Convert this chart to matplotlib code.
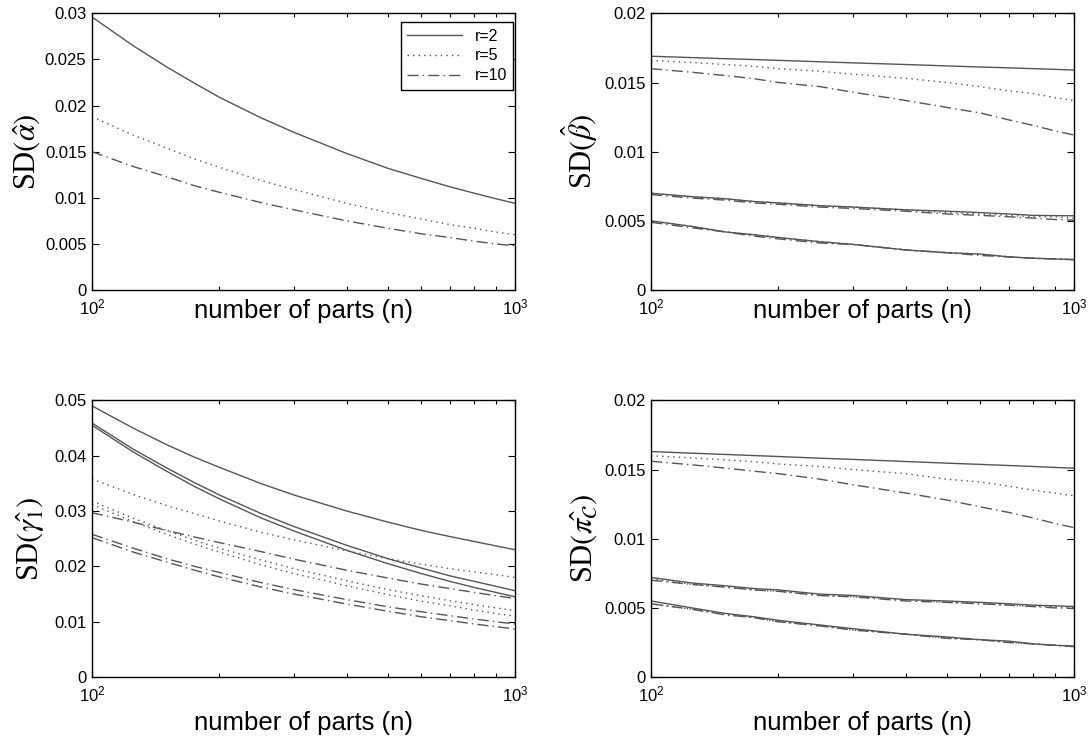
import matplotlib
matplotlib.use("Agg")
import matplotlib.pyplot as plt
from matplotlib.ticker import NullFormatter, FixedLocator

plt.rcParams['font.family'] = ['Liberation Sans', 'DejaVu Sans']
plt.rcParams['mathtext.fontset'] = 'stix'

# sample sizes (x axis)
n_parts = [100, 125, 150, 175, 200, 250, 300, 400, 500, 600, 700, 800, 900, 1000]

# SD(alpha)
alpha_r2 = [0.0296, 0.0265, 0.0242, 0.0224, 0.0209, 0.0187, 0.0171, 0.0148, 0.0132, 0.0121, 0.0112, 0.0105, 0.0099, 0.0094]
alpha_r5 = [0.0188, 0.0168, 0.0154, 0.0142, 0.0133, 0.0119, 0.0109, 0.0094, 0.0084, 0.0077, 0.0071, 0.0067, 0.0063, 0.0060]
alpha_r10 = [0.0150, 0.0134, 0.0123, 0.0113, 0.0106, 0.0095, 0.0087, 0.0075, 0.0067, 0.0061, 0.0057, 0.0053, 0.0050, 0.0048]

# SD(beta): three groups of curves, one per r
beta_r2 = [
    [0.0169, 0.0168, 0.01672, 0.01666, 0.0166, 0.0165, 0.01642, 0.0163, 0.0162, 0.01612, 0.01606, 0.0160, 0.01595, 0.0159],
    [0.0070, 0.00675, 0.0066, 0.0064, 0.0063, 0.0061, 0.0060, 0.0058, 0.0057, 0.0056, 0.0055, 0.0054, 0.00538, 0.00537],
    [0.0050, 0.0046, 0.0042, 0.0040, 0.0038, 0.0035, 0.0033, 0.0029, 0.0027, 0.0026, 0.0024, 0.0023, 0.00225, 0.0022],
]
beta_r5 = [
    [0.0166, 0.01644, 0.0163, 0.01617, 0.0160, 0.01582, 0.0156, 0.0153, 0.0150, 0.0147, 0.0144, 0.0142, 0.0139, 0.0137],
    [0.0070, 0.00675, 0.0066, 0.0064, 0.0063, 0.0061, 0.0060, 0.0058, 0.0056, 0.0055, 0.0054, 0.0053, 0.0053, 0.0052],
    [0.0050, 0.0046, 0.0042, 0.0040, 0.0038, 0.0035, 0.0033, 0.0029, 0.0027, 0.0026, 0.0024, 0.0023, 0.00225, 0.0022],
]
beta_r10 = [
    [0.0160, 0.01574, 0.0155, 0.01528, 0.0150, 0.01471, 0.0143, 0.0137, 0.0132, 0.0128, 0.0123, 0.0119, 0.0115, 0.0112],
    [0.0069, 0.00665, 0.0065, 0.0063, 0.0062, 0.0060, 0.0059, 0.0057, 0.0055, 0.0054, 0.0053, 0.0052, 0.0051, 0.00505],
    [0.0049, 0.0045, 0.0042, 0.0039, 0.0037, 0.0034, 0.0033, 0.0029, 0.0027, 0.0025, 0.0024, 0.0023, 0.00225, 0.0022],
]

# SD(gamma_1)
gamma_r2 = [
    [0.0490, 0.0450, 0.0420, 0.0397, 0.0379, 0.0350, 0.0329, 0.0300, 0.0280, 0.0265, 0.0254, 0.0245, 0.0237, 0.0230],
    [0.0459, 0.0412, 0.0378, 0.0351, 0.0329, 0.0296, 0.0272, 0.0238, 0.0214, 0.0197, 0.0183, 0.0173, 0.0164, 0.0156],
    [0.0455, 0.0407, 0.0372, 0.0344, 0.0322, 0.0288, 0.0264, 0.0229, 0.0205, 0.0187, 0.0173, 0.0162, 0.0153, 0.0145],
]
gamma_r5 = [
    [0.0358, 0.0330, 0.0310, 0.0295, 0.0282, 0.0262, 0.0248, 0.0228, 0.0214, 0.0204, 0.0196, 0.0190, 0.0185, 0.0180],
    [0.0318, 0.0287, 0.0265, 0.0247, 0.0233, 0.0212, 0.0196, 0.0174, 0.0158, 0.0147, 0.0138, 0.0131, 0.0125, 0.0120],
    [0.0312, 0.0281, 0.0258, 0.0240, 0.0226, 0.0203, 0.0187, 0.0165, 0.0149, 0.0137, 0.0129, 0.0121, 0.0115, 0.0110],
]
gamma_r10 = [
    [0.0297, 0.0280, 0.0265, 0.0253, 0.0243, 0.0227, 0.0213, 0.0193, 0.0179, 0.0168, 0.0160, 0.0153, 0.0147, 0.0142],
    [0.0258, 0.0233, 0.0214, 0.0200, 0.0189, 0.0171, 0.0158, 0.0140, 0.0127, 0.0118, 0.0111, 0.0105, 0.0100, 0.0096],
    [0.0252, 0.0226, 0.0208, 0.0193, 0.0181, 0.0163, 0.0150, 0.0132, 0.0119, 0.0109, 0.0102, 0.0096, 0.0091, 0.0087],
]

# SD(pi_C)
pi_r2 = [
    [0.0163, 0.01618, 0.01609, 0.01601, 0.01594, 0.01582, 0.01573, 0.01558, 0.01546, 0.01537, 0.01529, 0.01522, 0.01515, 0.0151],
    [0.0072, 0.0068, 0.0066, 0.0064, 0.0063, 0.0060, 0.0059, 0.0056, 0.0055, 0.0054, 0.0053, 0.0052, 0.00515, 0.0051],
    [0.0055, 0.0050, 0.0046, 0.00436, 0.0041, 0.00377, 0.0035, 0.0031, 0.0029, 0.0027, 0.0026, 0.0024, 0.0023, 0.00224],
]
pi_r5 = [
    [0.0160, 0.01584, 0.0157, 0.01557, 0.0154, 0.01522, 0.0150, 0.0147, 0.0143, 0.0141, 0.0138, 0.0135, 0.0133, 0.0131],
    [0.0071, 0.0067, 0.0065, 0.0063, 0.0062, 0.0059, 0.0058, 0.0056, 0.0054, 0.0053, 0.0052, 0.0051, 0.0051, 0.0050],
    [0.0053, 0.0049, 0.0045, 0.0043, 0.0040, 0.0037, 0.0034, 0.0031, 0.0028, 0.0027, 0.0025, 0.0024, 0.0023, 0.0022],
]
pi_r10 = [
    [0.0156, 0.01534, 0.0151, 0.01488, 0.0147, 0.01431, 0.0139, 0.0133, 0.0128, 0.0123, 0.0119, 0.0115, 0.0111, 0.0108],
    [0.0070, 0.0067, 0.0065, 0.0063, 0.0062, 0.0059, 0.0058, 0.0055, 0.0054, 0.0053, 0.0052, 0.0051, 0.0050, 0.00496],
    [0.0053, 0.0049, 0.0045, 0.0043, 0.0040, 0.0037, 0.0034, 0.0031, 0.0028, 0.0027, 0.0025, 0.0024, 0.0023, 0.0022],
]

LINE = "#555555"
STYLES = {"r2": "-", "r5": (0, (1, 3)), "r10": (0, (8, 3, 1, 3))}


def style_axes(ax, ymax, yticks, ylabel, ylab_x, xlab_y):
    ax.set_xscale("log")
    ax.set_xlim(100, 1000)
    ax.set_ylim(0, ymax)
    ax.set_yticks(yticks)
    ax.set_yticklabels([("%g" % t) for t in yticks])
    ax.xaxis.set_minor_locator(FixedLocator(range(200, 1000, 100)))
    ax.xaxis.set_minor_formatter(NullFormatter())
    ax.tick_params(which="both", direction="in", top=True, right=True,
                   labelsize=12, width=0.8, colors="black")
    ax.tick_params(which="major", length=5)
    ax.tick_params(which="minor", length=3)
    ax.tick_params(axis="x", pad=5)
    ax.tick_params(axis="y", pad=4)
    for s in ax.spines.values():
        s.set_linewidth(1.0)
    ax.set_xlabel("number of parts (n)", fontsize=18.5)
    ax.xaxis.set_label_coords(0.5, xlab_y)
    ax.set_ylabel(ylabel, fontsize=22, family="Liberation Serif")
    ax.yaxis.set_label_coords(ylab_x, 0.5)


fig = plt.figure(figsize=(10.91, 7.40), dpi=100)
w, h = 0.388, 0.374
ax1 = fig.add_axes([0.0843, 0.608, w, h])
ax2 = fig.add_axes([0.5967, 0.608, w, h])
ax3 = fig.add_axes([0.0843, 0.085, w, h])
ax4 = fig.add_axes([0.5967, 0.085, w, h])

ax1.plot(n_parts, alpha_r2, color=LINE, lw=1.0, ls=STYLES["r2"], label="r=2")
ax1.plot(n_parts, alpha_r5, color=LINE, lw=1.0, ls=STYLES["r5"], label="r=5")
ax1.plot(n_parts, alpha_r10, color=LINE, lw=1.0, ls=STYLES["r10"], label="r=10")
leg = ax1.legend(loc="upper right", fontsize=11.5, fancybox=False, framealpha=1,
                 edgecolor="black", handlelength=3.4, borderpad=0.4,
                 labelspacing=0.3, borderaxespad=0,
                 bbox_to_anchor=(0.995, 0.968))
leg.get_frame().set_linewidth(1.0)

for ax, groups in [(ax2, (beta_r2, beta_r5, beta_r10)),
                   (ax3, (gamma_r2, gamma_r5, gamma_r10)),
                   (ax4, (pi_r2, pi_r5, pi_r10))]:
    for key, curves in zip(["r2", "r5", "r10"], groups):
        for c in curves:
            ax.plot(n_parts, c, color=LINE, lw=1.0, ls=STYLES[key])

style_axes(ax1, 0.03, [0, 0.005, 0.01, 0.015, 0.02, 0.025, 0.03],
           r"SD$(\hat{\alpha})$", -0.115, -0.032)
style_axes(ax2, 0.02, [0, 0.005, 0.01, 0.015, 0.02],
           r"SD$(\hat{\beta})$", -0.12, -0.032)
style_axes(ax3, 0.05, [0, 0.01, 0.02, 0.03, 0.04, 0.05],
           r"SD$(\hat{\gamma_1})$", -0.106, -0.123)
style_axes(ax4, 0.02, [0, 0.005, 0.01, 0.015, 0.02],
           r"SD$(\hat{\pi_{\mathcal{C}}})$", -0.12, -0.123)

fig.savefig("out.png", dpi=100)
